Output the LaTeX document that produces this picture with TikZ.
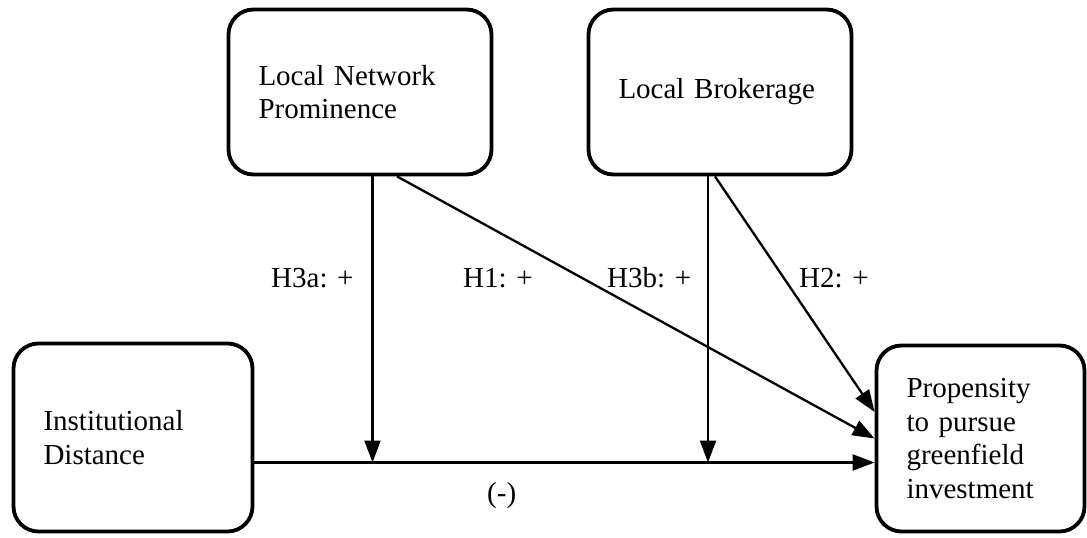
\documentclass[tikz,border=0pt]{standalone}
\usepackage{fontspec}
\setmainfont{Liberation Serif}
\usetikzlibrary{arrows.meta,calc}

\begin{document}
\begin{tikzpicture}[x=1pt,y=-1pt,
	box/.style={draw, line width=3.8pt, rounded corners=25pt, inner xsep=30pt, inner ysep=0pt,
		align=left, font=\fontsize{29}{33.5}\selectfont},
	link/.style={line width=2.3pt, -{Triangle[length=22pt,width=16pt]}},
	lbl/.style={anchor=base west, inner sep=0pt, font=\fontsize{29}{33.5}\selectfont}]
	\useasboundingbox (0,0) rectangle (1087,538);

	\node[box, text width=179pt, minimum height=188pt] (dist) at (133,437.5) {Institutional\\Distance};
	\node[box, text width=148pt, minimum height=186pt] (prop) at (980.5,438.5) {Propensity\\to pursue\\greenfield\\investment};
	\node[box, text width=203pt, minimum height=165pt] (lnp) at (360,92) {Local Network\\Prominence};
	\node[box, text width=203pt, minimum height=165pt] (lb) at (720,92) {Local Brokerage};

	% moderation points on the main path
	\coordinate (jA) at (372.5,462.5);
	\coordinate (jB) at (708,462.5);

	\draw[link] ([yshift=-25pt]dist.east) -- ([yshift=-25pt]dist.east -| prop.west);
	\draw[link] (lnp.south -| jA) -- (jA);
	\draw[link] (lb.south -| jB) -- (jB);
	\draw[link] ([xshift=37pt]lnp.south) -- (prop.west);
	\draw[link] ([xshift=-5pt]lb.south) -- ([yshift=26.5pt]prop.west);

	\node[lbl] (h3a) at (271,287) {H3a: +};
	\node[lbl] (h1) at (463,287) {H1: +};
	\node[lbl] (h3b) at (607,287) {H3b: +};
	\node[lbl] (h2) at (799,287) {H2: +};
	\node[lbl] (neg) at (487,502) {(-)};
\end{tikzpicture}
\end{document}
